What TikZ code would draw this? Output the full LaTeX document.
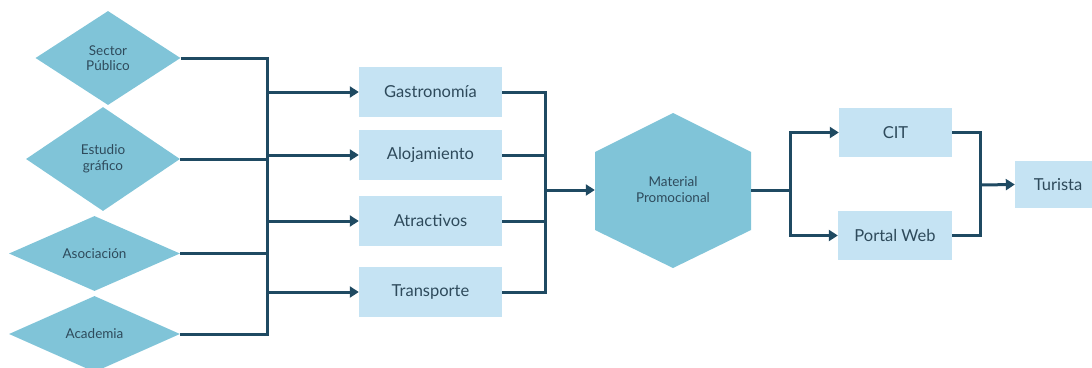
\documentclass[tikz,border=0pt]{standalone}
\usepackage{fontspec}
\setmainfont{Lato}
\usetikzlibrary{shapes.geometric,arrows.meta,calc}
\definecolor{dia}{HTML}{80C4D8}
\definecolor{box}{HTML}{C5E3F3}
\definecolor{wire}{HTML}{1F4A62}
\definecolor{ink}{HTML}{2E4A5B}
\tikzset{
	actor/.style = {diamond, fill=dia, inner sep=0pt, text=ink, align=center, font=\fontsize{13.5}{15.5}\selectfont},
	area/.style = {rectangle, fill=box, inner sep=0pt, text=ink, font=\fontsize{16.5}{18}\selectfont},
	link/.style = {wire, line width=3pt},
	flow/.style = {link, -{Triangle[length=9pt, width=11pt]}}
}

\begin{document}
\begin{tikzpicture}[x=1pt, y=-1pt]
	\useasboundingbox (0,0) rectangle (1092,367);
	% actores
	\node[actor, minimum width=145pt, minimum height=94pt] (sec) at (108,58) {Sector\\P\'ublico};
	\node[actor, minimum width=154pt, minimum height=104pt] (est) at (103,159) {Estudio\\gr\'afico};
	\node[actor, minimum width=171pt, minimum height=75pt] (aso) at (94.5,253.5) {Asociaci\'on};
	\node[actor, minimum width=171pt, minimum height=76pt] (aca) at (94.5,334) {Academia};
	% areas
	\node[area, minimum width=143pt, minimum height=50pt] (gas) at (430.5,92) {Gastronom\'ia};
	\node[area, minimum width=143pt, minimum height=50pt] (alo) at (430.5,155) {Alojamiento};
	\node[area, minimum width=143pt, minimum height=50pt] (atr) at (430.5,221) {Atractivos};
	\node[area, minimum width=143pt, minimum height=50pt] (tra) at (430.5,292) {Transporte};
	% material
	\fill[dia] (595,152) -- (673,113) -- (751,152) -- (751,230) -- (673,268) -- (595,230) -- cycle;
	\node[text=ink, align=center, font=\fontsize{13.5}{16}\selectfont, minimum width=156pt, minimum height=78pt, inner sep=0pt] (mat) at (673,190) {Material\\Promocional};
	% medios
	\node[area, minimum width=113pt, minimum height=49pt] (cit) at (895.5,132.5) {CIT};
	\node[area, minimum width=114pt, minimum height=49pt] (web) at (895,235.5) {Portal Web};
	\node[area, minimum width=86pt, minimum height=47pt] (tur) at (1058,184.5) {Turista};

	\coordinate (j1) at (267,190);
	\coordinate (j3) at (545,190);
	\coordinate (j4) at (790,190);
	\coordinate (j5) at (980,185);

	\draw[link] (sec.east) -- (sec.east -| j1) |- (aca.east);
	\draw[link] (est.east) -- (est.east -| j1);
	\draw[link] (aso.east) -- (aso.east -| j1);
	\foreach \n in {gas, alo, atr, tra}
		\draw[flow] (\n.west -| j1) -- (\n.west);

	\draw[link] (gas.east) -| (j3) |- (tra.east);
	\draw[link] (alo.east) -- (alo.east -| j3);
	\draw[link] (atr.east) -- (atr.east -| j3);
	\draw[flow] (j3) -- (mat.west);

	\draw[link] (mat.east) -- (j4);
	\draw[flow] (j4) |- (cit.west);
	\draw[flow] (j4) |- (web.west);

	\draw[link] (cit.east) -| (j5) |- (web.east);
	\draw[flow] (j5) -- (tur.west);
\end{tikzpicture}
\end{document}
